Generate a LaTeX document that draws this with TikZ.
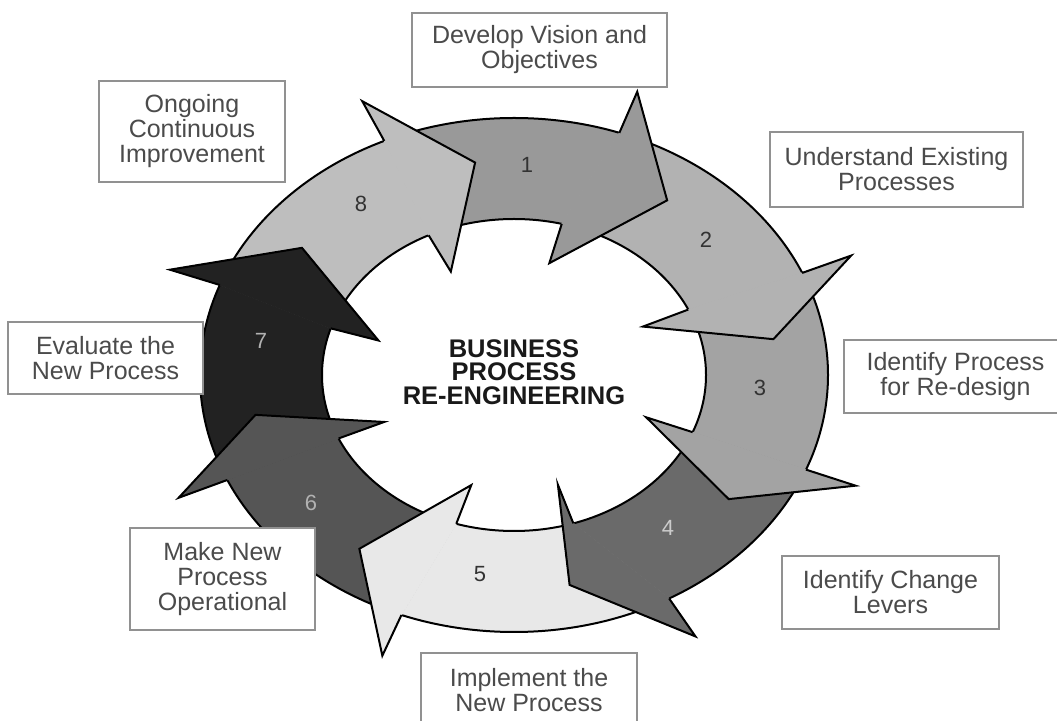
\documentclass[tikz,border=0pt]{standalone}
\usepackage{fontspec}
\setmainfont{Liberation Sans}
\usetikzlibrary{calc}
\definecolor{phase1}{RGB}{153,153,153}
\definecolor{phase2}{RGB}{178,178,178}
\definecolor{phase3}{RGB}{163,163,163}
\definecolor{phase4}{RGB}{106,106,106}
\definecolor{phase5}{RGB}{232,232,232}
\definecolor{phase6}{RGB}{85,85,85}
\definecolor{phase7}{RGB}{34,34,34}
\definecolor{phase8}{RGB}{190,190,190}
\definecolor{boxgray}{RGB}{145,145,145}
\definecolor{boxtext}{RGB}{75,75,75}

\begin{document}
\begin{tikzpicture}[x=1pt, y=1pt, line join=miter,
  stage/.style={draw=boxgray, line width=2.5pt, fill=white, text=boxtext,
    align=center, inner sep=0pt, font=\fontsize{25}{25}\selectfont},
  stepnum/.style={font=\fontsize{22}{22}\selectfont},
  outline/.style={draw=black, line width=2pt}]
  \useasboundingbox (0,0) rectangle (1057,720);
  \clip (0,0) rectangle (1057,720);
  \def\cx{514} \def\cy{345}
  \def\ao{314} \def\bo{257}
  \def\ai{192} \def\bi{156}

  % Ring bodies
  \foreach \col/\aso/\asi/\aeo/\aei in {phase1/114.4/116.4/70.4/75.6,
      phase2/70.4/75.6/23.4/24.8, phase3/23.4/24.8/-21.6/-21.5,
      phase4/-21.6/-21.5/-60.4/-72, phase5/-60.4/-72/-111/-107.5,
      phase6/-111/-107.5/-155.9/-156, phase7/-155.9/-156/-200.5/-197.4,
      phase8/-200.5/-197.4/-245.6/-243.6}{
    \fill[\col] ({\cx+\ao*cos(\aso)},{\cy+\bo*sin(\aso)})
      arc[start angle=\aso, end angle=\aeo, x radius=\ao, y radius=\bo]
      -- ({\cx+\ai*cos(\aei)},{\cy+\bi*sin(\aei)})
      arc[start angle=\aei, end angle=\asi, x radius=\ai, y radius=\bi] -- cycle;
  }
  % Ring outlines
  \draw[outline] (\cx,\cy) ellipse[x radius=\ao, y radius=\bo];
  \draw[outline] (\cx,\cy) ellipse[x radius=\ai, y radius=\bi];

  % Arrow heads
  \foreach \col/\aeo/\aei/\atip in {phase1/70.4/75.6/54.4,
      phase2/23.4/24.8/9.6, phase3/-21.6/-21.5/-35.3,
      phase4/-60.4/-72/-77.8, phase5/-111/-107.5/-126,
      phase6/-155.9/-156/-169.3, phase7/-200.5/-197.4/-216.3,
      phase8/-245.6/-243.6/-261.5}{
    \coordinate (o) at ({\cx+\ao*cos(\aeo)},{\cy+\bo*sin(\aeo)});
    \coordinate (ob) at ({\cx+1.17*\ao*cos(\aeo)},{\cy+1.17*\bo*sin(\aeo)});
    \coordinate (t) at ({\cx+263.1*cos(\atip)},{\cy+214.8*sin(\atip)});
    \coordinate (ib) at ({\cx+0.74*\ai*cos(\aei)},{\cy+0.74*\bi*sin(\aei)});
    \coordinate (i) at ({\cx+\ai*cos(\aei)},{\cy+\bi*sin(\aei)});
    \fill[\col, draw=\col, line width=1pt] (o) -- (ob) -- (t) -- (ib) -- (i) -- cycle;
    \draw[outline] (o) -- (ob) -- (t) -- (ib) -- (i);
  }

  % Step numbers
  \foreach \n/\x/\y/\tc in {1/527/555/black!80, 2/706/480/black!80,
      3/760/332/black!80, 4/668/192/black!20, 5/480/146/black!80,
      6/311/217/black!30, 7/261/379/black!30, 8/361/516/black!80}{
    \node[stepnum, text=\tc] (n\n) at (\x,\y) {\n};
  }

  % Centre title
  \node[font=\fontsize{25.5}{23.5}\selectfont\bfseries, text=black!90, align=center]
    (bpr) at (514,348) {BUSINESS\\PROCESS\\RE-ENGINEERING};

  % Stage boxes
  \node[stage, minimum width=255, minimum height=74] (vision) at (539.5,670) {Develop Vision and\\Objectives};
  \node[stage, minimum width=253, minimum height=75] (existing) at (896.5,550.5) {Understand Existing\\Processes};
  \node[stage, minimum width=223, minimum height=73] (redesign) at (955.5,343.5) {Identify Process\\for Re-design};
  \node[stage, minimum width=217, minimum height=73] (levers) at (890.5,127.5) {Identify Change\\Levers};
  \node[stage, minimum width=216, minimum height=74] (implement) at (529,30) {Implement the\\New Process};
  \node[stage, minimum width=185, minimum height=102] (operational) at (222.5,141) {Make New\\Process\\Operational};
  \node[stage, minimum width=195, minimum height=72] (evaluate) at (105.5,362) {Evaluate the\\New Process};
  \node[stage, minimum width=186, minimum height=101] (improve) at (192,588.5) {Ongoing\\Continuous\\Improvement};
\end{tikzpicture}
\end{document}
